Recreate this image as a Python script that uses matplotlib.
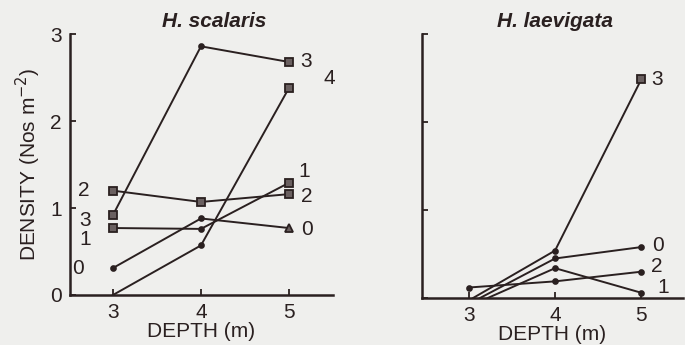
import numpy as np
import matplotlib.pyplot as plt

# data
depths = [3, 4, 5]

# H. scalaris, density by series
sc_0 = [0.31, 0.88, 0.77]
sc_1 = [0.77, 0.76, 1.29]
sc_2 = [1.20, 1.07, 1.16]
sc_3 = [0.92, 2.86, 2.68]
sc_4 = [0.00, 0.57, 2.38]

# H. laevigata (three series leave the axis just right of 3 m)
lae_depths_0 = [3.13, 4, 5]
lae_depths_1 = [3.22, 4, 5]
lae_depths_3 = [3.05, 4, 5]
lae_0 = [0.00, 0.45, 0.58]
lae_1 = [0.00, 0.34, 0.06]
lae_2 = [0.12, 0.19, 0.30]
lae_3 = [0.00, 0.54, 2.49]

ink = "#2a2020"
bg = "#efefed"
fs = 15
plt.rcParams["font.family"] = ["Liberation Sans", "DejaVu Sans"]
plt.rcParams["font.size"] = fs

fig = plt.figure(figsize=(6.85, 3.45), dpi=100, facecolor=bg)
ax1 = fig.add_axes([0.102, 0.145, 0.384, 0.756])
ax2 = fig.add_axes([0.616, 0.136, 0.381, 0.765])


def series(ax, x, y, markers, sizes):
    ax.plot(x, y, color=ink, lw=1.4, zorder=2)
    for xi, yi, m, s in zip(x, y, markers, sizes):
        if m:
            ax.plot(xi, yi, marker=m, ms=s, color=ink, mfc="#6a6060" if m in "s^" else ink,
                    mec=ink, mew=1.3, zorder=3)


def label(ax, x, y, txt, dx, dy):
    ax.annotate(txt, (x, y), xytext=(dx, dy), textcoords="offset points",
                ha="center", va="center", color=ink, fontsize=fs)


# left panel
series(ax1, depths, sc_3, ["s", "o", "s"], [6, 3.5, 6])
series(ax1, depths, sc_4, [None, "o", "s"], [0, 3.5, 6])
series(ax1, depths, sc_2, ["s", "s", "s"], [6, 6, 6])
series(ax1, depths, sc_1, ["s", "o", "s"], [6, 3.5, 6])
series(ax1, depths, sc_0, ["o", "o", "^"], [3.5, 3.5, 6])

label(ax1, 3, sc_2[0], "2", -21, 0)
label(ax1, 3, sc_3[0], "3", -20, -4)
label(ax1, 3, sc_1[0], "1", -20, -8)
label(ax1, 3, sc_0[0], "0", -25, 0)
label(ax1, 5, sc_3[2], "3", 12, 0)
label(ax1, 5, sc_4[2], "4", 29, 7)
label(ax1, 5, sc_1[2], "1", 11, 8)
label(ax1, 5, sc_2[2], "2", 13, -2)
label(ax1, 5, sc_0[2], "0", 13, -1)

ax1.set_xlim(2.51, 5.5)
ax1.set_ylim(0, 3)
ax1.set_xticks([3, 4, 5])
ax1.set_yticks([0, 1, 2, 3])
ax1.set_ylabel("DENSITY (Nos m$^{-2}$)", color=ink, fontsize=fs, labelpad=5)
ax1.set_xlabel("DEPTH (m)", color=ink, fontsize=fs, labelpad=0)
ax1.set_title("H. scalaris", fontstyle="italic", fontweight="bold", color=ink,
              fontsize=fs, x=0.55, pad=5)

# right panel
series(ax2, lae_depths_3, lae_3, [None, "o", "s"], [0, 3.5, 6])
series(ax2, lae_depths_0, lae_0, [None, "o", "o"], [0, 3.5, 3.5])
series(ax2, depths, lae_2, ["o", "o", "o"], [3.5, 3.5, 3.5])
series(ax2, lae_depths_1, lae_1, [None, "o", "o"], [0, 3.5, 3.5])

label(ax2, 5, lae_3[2], "3", 11, 0)
label(ax2, 5, lae_0[2], "0", 12, 1)
label(ax2, 5, lae_2[2], "2", 11, 4)
label(ax2, 5, lae_1[2], "1", 16, 4)

ax2.set_xlim(2.46, 5.48)
ax2.set_ylim(0, 3)
ax2.set_xticks([3, 4, 5])
ax2.set_yticks([0, 1, 2, 3])
ax2.set_yticklabels([])
ax2.set_xlabel("DEPTH (m)", color=ink, fontsize=fs, labelpad=0)
ax2.set_title("H. laevigata", fontstyle="italic", fontweight="bold", color=ink,
              fontsize=fs, x=0.51, pad=5)

for ax in (ax1, ax2):
    ax.set_facecolor(bg)
    for side in ("top", "right"):
        ax.spines[side].set_visible(False)
    for side in ("left", "bottom"):
        ax.spines[side].set_color(ink)
        ax.spines[side].set_linewidth(1.8)
    ax.tick_params(direction="in", length=4, width=1.3, colors=ink, labelsize=fs, pad=6)

fig.savefig("out.png", dpi=100, facecolor=bg)
